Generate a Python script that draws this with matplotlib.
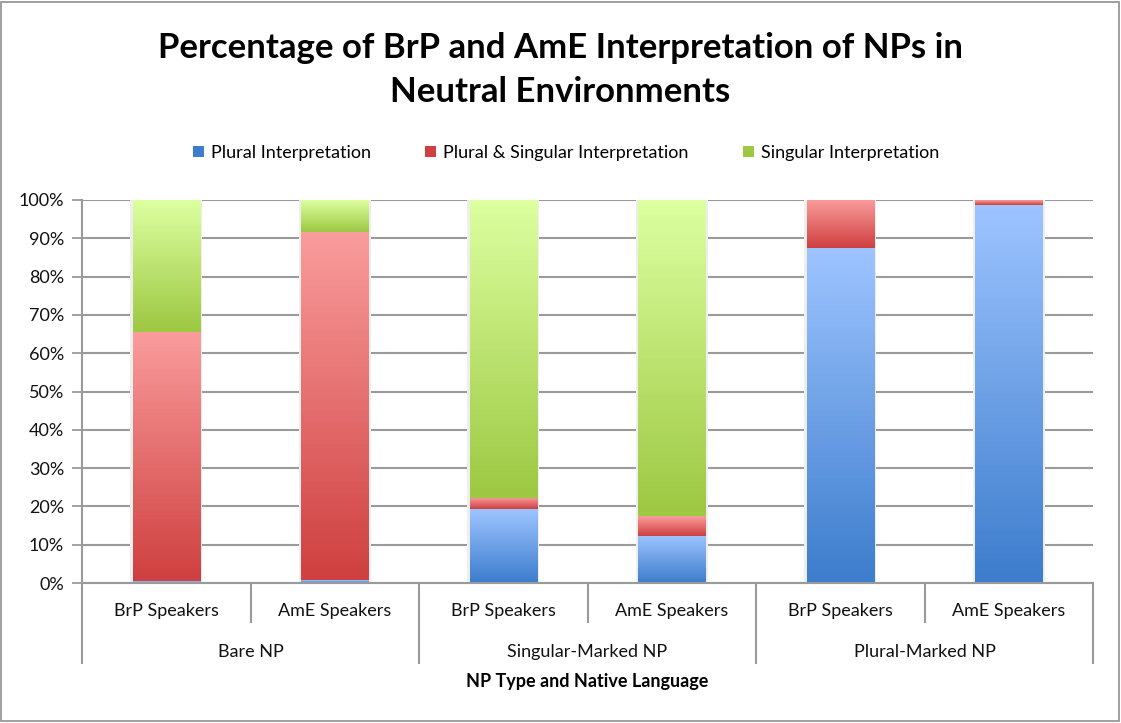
"""Stacked 100% bars: BrP vs AmE interpretation of NPs in neutral environments."""

import matplotlib

matplotlib.use("Agg")
import matplotlib.pyplot as plt
import numpy as np
from matplotlib.colors import LinearSegmentedColormap
from matplotlib.patches import Patch, Rectangle
from matplotlib.ticker import FuncFormatter, MultipleLocator

plt.rcParams["font.family"] = ["Lato", "DejaVu Sans"]

speakers = ["BrP Speakers", "AmE Speakers"] * 3
groups = ["Bare NP", "Singular-Marked NP", "Plural-Marked NP"]
series = ["Plural Interpretation", "Plural & Singular Interpretation", "Singular Interpretation"]

plural = [0.5, 0.7, 19.2, 12.4, 87.4, 98.7]
plural_singular = [65.1, 91.0, 2.9, 5.1, 12.6, 1.3]
singular = [34.4, 8.3, 77.9, 82.5, 0.0, 0.0]

# (light top, dark bottom) per series
gradients = [
    ("#9dc4ff", "#3d7dcd"),
    ("#fa9c9c", "#cf4040"),
    ("#ddffa0", "#9cc842"),
]

W, H = 1121, 723
fig = plt.figure(figsize=(W / 100, H / 100), dpi=100)
fig.patches.append(Rectangle((1 / W, 2 / H), 1 - 3 / W, 1 - 4 / H, transform=fig.transFigure,
                             fill=False, edgecolor="#8f8f8f", linewidth=1.2))
ax = fig.add_axes([82 / W, 140 / H, (1093 - 82) / W, (583 - 200) / H])

x = np.arange(len(speakers))
bar_w = 0.40
grid_c = "#9a9a9a"

# soft shadow behind bars
ax.bar(x, 100, width=bar_w + 0.03, color="#eeeeee", zorder=1)

bottom = np.zeros(len(x))
for vals, (c_top, c_bot) in zip([plural, plural_singular, singular], gradients):
    cmap = LinearSegmentedColormap.from_list("g", [c_bot, c_top])
    bars = ax.bar(x, vals, width=bar_w, bottom=bottom, facecolor="none", edgecolor="none", zorder=3)
    for b in bars:
        if b.get_height() <= 0:
            continue
        x0, y0 = b.get_x(), b.get_y()
        img = ax.imshow(np.linspace(0, 1, 64).reshape(-1, 1), cmap=cmap, aspect="auto",
                        origin="lower", extent=(x0, x0 + b.get_width(), y0, y0 + b.get_height()),
                        zorder=2.5)
        img.set_clip_path(b)
    bottom += np.array(vals)

ax.set_xlim(-0.5, len(x) - 0.5)
ax.set_ylim(0, 100)
ax.yaxis.set_major_locator(MultipleLocator(10))
ax.yaxis.set_major_formatter(FuncFormatter(lambda v, _: f"{v:.0f}%"))
ax.tick_params(axis="y", length=7, width=1.3, color=grid_c, labelsize=13, pad=6, labelcolor="#111111")
ax.set_xticks([])
ax.grid(axis="y", color=grid_c, linewidth=1.5, zorder=0)
ax.set_axisbelow(True)
for s in ["top", "right"]:
    ax.spines[s].set_visible(False)
for s in ["left", "bottom"]:
    ax.spines[s].set_color(grid_c)
    ax.spines[s].set_linewidth(1.5)

# two-level category axis
tr = ax.get_xaxis_transform()
for i in range(len(x) + 1):
    depth = -0.209 if i % 2 == 0 else -0.102
    ax.plot([i - 0.5, i - 0.5], [0, depth], transform=tr, color=grid_c, lw=1.5, clip_on=False)
for i, lab in enumerate(speakers):
    ax.text(i, -0.073, lab, transform=tr, ha="center", va="center", fontsize=13, color="#111111")
for g, lab in enumerate(groups):
    ax.text(2 * g + 0.5, -0.18, lab, transform=tr, ha="center", va="center", fontsize=13, color="#111111")
ax.text(0.5, -0.258, "NP Type and Native Language", transform=ax.transAxes, ha="center",
        va="center", fontsize=13, fontweight="bold")

fig.text(0.5, 1 - 70 / H, "Percentage of BrP and AmE Interpretation of NPs in\nNeutral Environments",
         ha="center", va="center", fontsize=25, fontweight="bold", linespacing=1.45)

handles = [Patch(facecolor=c_bot, edgecolor="none") for _, c_bot in gradients]
fig.legend(handles, series, loc="center", bbox_to_anchor=(0.505, 1 - 153 / H), ncol=3,
           frameon=False, fontsize=13, handlelength=0.6, handleheight=0.6, handletextpad=0.4,
           columnspacing=3.0)

fig.savefig("out.png", dpi=100)
